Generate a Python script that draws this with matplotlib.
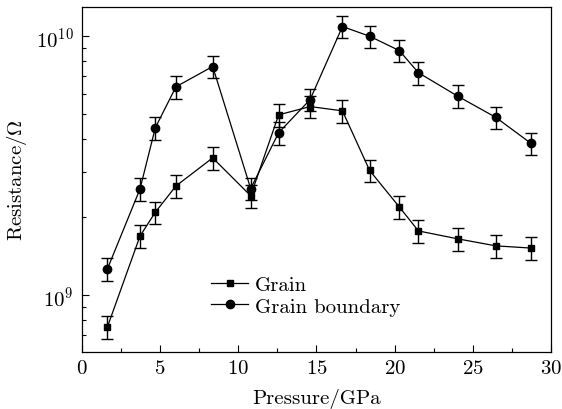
import numpy as np
import matplotlib
matplotlib.use('Agg')
import matplotlib.pyplot as plt
from matplotlib.ticker import LogLocator, MultipleLocator, NullFormatter

#---------------------------------------------------------#
# Data
#---------------------------------------------------------#
pressure = [1.62, 3.71, 4.69, 6.01, 8.36, 10.79, 12.58, 14.59,
            16.66, 18.40, 20.30, 21.52, 24.03, 26.47, 28.71]
grain = [7.52e8, 1.69e9, 2.09e9, 2.64e9, 3.39e9, 2.42e9, 4.97e9, 5.35e9,
         5.15e9, 3.03e9, 2.19e9, 1.77e9, 1.65e9, 1.55e9, 1.52e9]
boundary = [1.26e9, 2.57e9, 4.43e9, 6.38e9, 7.64e9, 2.58e9, 4.24e9, 5.69e9,
            1.09e10, 1.00e10, 8.80e9, 7.23e9, 5.87e9, 4.86e9, 3.86e9]
rel_err = 0.10  # error bars are about 10% of each value

#---------------------------------------------------------#
# Style
#---------------------------------------------------------#
plt.rcParams['font.family'] = ['cmr10', 'DejaVu Serif']
plt.rcParams['mathtext.fontset'] = 'cm'
plt.rcParams['axes.formatter.use_mathtext'] = True
plt.rcParams['font.size'] = 15

fig = plt.figure(figsize=(5.62, 4.10), dpi=100)
ax = fig.add_axes([0.1459, 0.139, 0.8345, 0.8415])

#---------------------------------------------------------#
# Plot
#---------------------------------------------------------#
for vals, mk, ms, lab in [(grain, 's', 5, 'Grain'),
                          (boundary, 'o', 6, 'Grain boundary')]:
    v = np.array(vals)
    ax.errorbar(pressure, v, yerr=rel_err * v, fmt='none', ecolor='black',
                elinewidth=1.0, capsize=4, capthick=1.0)
    ax.plot(pressure, v, '-', color='black', marker=mk, markersize=ms,
            linewidth=0.9, label=lab)

ax.set_yscale('log')
ax.set_xlim(0, 30)
ax.set_ylim(6.03e8, 1.297e10)

ax.xaxis.set_major_locator(MultipleLocator(5))
ax.xaxis.set_minor_locator(MultipleLocator(2.5))
ax.yaxis.set_major_locator(LogLocator(base=10))
ax.yaxis.set_minor_locator(LogLocator(base=10, subs=np.arange(2, 10)))
ax.yaxis.set_minor_formatter(NullFormatter())

ax.tick_params(which='both', direction='in', top=False, right=False)
ax.tick_params(which='major', length=5, width=0.8)
ax.tick_params(axis='x', which='major', pad=5)
ax.tick_params(axis='y', which='major', pad=6)
ax.tick_params(which='minor', length=3, width=0.8)
for s in ax.spines.values():
    s.set_linewidth(0.9)

ax.set_xlabel('Pressure/GPa', labelpad=8)
ax.set_ylabel('Resistance/$\\Omega$', labelpad=5)

ax.legend(loc='center left', bbox_to_anchor=(0.275, 0.164), frameon=False,
          borderpad=0, borderaxespad=0, handlelength=1.8, handletextpad=0.3,
          labelspacing=0.15)

fig.savefig('out.png', dpi=100)
